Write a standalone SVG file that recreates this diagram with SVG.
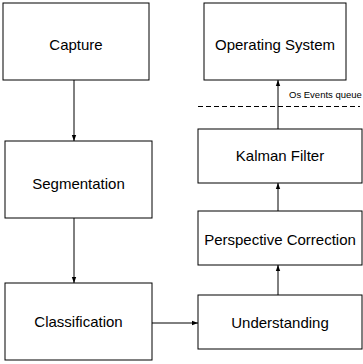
<svg xmlns="http://www.w3.org/2000/svg" width="363" height="364" viewBox="0 0 363 364">
<defs>
<style>
.box{fill:#fff;stroke:#000;stroke-width:1}
.lbl{font-family:"Liberation Sans",Arial,sans-serif;font-size:15px;fill:#000;text-anchor:middle}
.edge{stroke:#000;stroke-width:1;fill:none;marker-end:url(#ah)}
.small{font-family:"Liberation Sans",Arial,sans-serif;font-size:9.5px;fill:#000}
</style>
<marker id="ah" viewBox="0 0 6 6" refX="6" refY="3" markerWidth="6" markerHeight="6" markerUnits="userSpaceOnUse" orient="auto">
<path d="M0,0.8 L6,3 L0,5.2 z" fill="#000"/>
</marker>
</defs>
<rect width="363" height="364" fill="#fff"/>
<g id="capture"><rect class="box" x="3" y="3" width="146" height="77"/><text class="lbl" x="76" y="50">Capture</text></g>
<g id="segmentation"><rect class="box" x="5" y="141" width="147" height="77"/><text class="lbl" x="78.5" y="189">Segmentation</text></g>
<g id="classification"><rect class="box" x="5" y="283" width="147" height="77"/><text class="lbl" x="78.5" y="327">Classification</text></g>
<g id="os"><rect class="box" x="204" y="3" width="142" height="77"/><text class="lbl" x="275" y="50">Operating System</text></g>
<g id="kalman"><rect class="box" x="198" y="129" width="164" height="54"/><text class="lbl" x="280" y="161">Kalman Filter</text></g>
<g id="perspective"><rect class="box" x="198" y="211" width="164" height="54"/><text class="lbl" x="280" y="245">Perspective Correction</text></g>
<g id="understanding"><rect class="box" x="198" y="295" width="164" height="54"/><text class="lbl" x="280" y="328">Understanding</text></g>
<g id="connectors">
<line class="edge" x1="74" y1="80" x2="74" y2="141"/>
<line class="edge" x1="74" y1="218" x2="74" y2="283"/>
<line class="edge" x1="152" y1="323" x2="198" y2="323"/>
<line class="edge" x1="278" y1="295" x2="278" y2="265"/>
<line class="edge" x1="278" y1="211" x2="278" y2="183"/>
<line class="edge" x1="278" y1="129" x2="278" y2="80"/>
<line x1="198" y1="106.5" x2="360" y2="106.5" stroke="#000" stroke-width="1" stroke-dasharray="5,3"/>
<text class="small" x="289" y="98">Os Events queue</text>
</g>
</svg>
